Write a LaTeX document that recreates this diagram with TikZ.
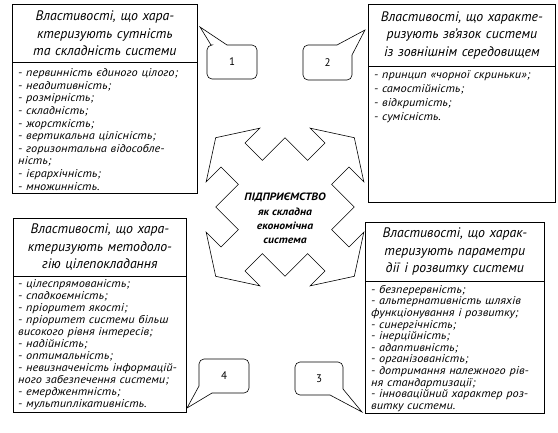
\documentclass[tikz,border=0pt]{standalone}
\usepackage{fontspec}
\setmainfont{PT Sans}
\newfontfamily\wideitem{PT Sans}[FakeStretch=1.1]
\usetikzlibrary{calc}
\tikzset{
  panel/.style={draw=black, line width=0.7pt, inner sep=0pt, anchor=north west},
  titlebox/.style={draw=black, line width=0.7pt, anchor=north west, inner sep=2pt, align=center,
     font=\fontsize{13.8}{17.5}\selectfont\itshape},
  itemlist/.style={anchor=north west, inner sep=0pt, align=left},
  calloutline/.style={draw=black, line width=0.6pt, rounded corners=5pt},
  pointer/.style={draw=black, line width=0.6pt, line join=miter},
  numtext/.style={font=\fontsize{11}{13}\selectfont, inner sep=0pt},
  starline/.style={draw=black, line width=0.6pt, line join=miter},
  centertext/.style={align=center, font=\wideitem\fontsize{10.6}{14.2}\selectfont\bfseries\itshape}
}
\begin{document}
\begin{tikzpicture}[x=1pt,y=-1pt]
\useasboundingbox (0,0) rectangle (558,432);

% ---- box 1 (top left)
\node[panel, minimum width=185pt, minimum height=189pt] (b1) at (12,4) {};
\node[titlebox, minimum width=185pt, minimum height=58pt, text width=180pt] (t1) at (b1.north west)
  {Властивості, що хара-\\ктеризують сутність\\та складність системи};
\node[itemlist, text width=178pt, font=\wideitem\fontsize{11.2}{12.6}\selectfont\itshape] (l1) at (18,68.5)
  {- первинність єдиного цілого;\\
   - неадитивність;\\
   - розмірність;\\
   - складність;\\
   - жорсткість;\\
   - вертикальна цілісність;\\
   - горизонтальна відособле-\\
   ність;\\
   - ієрархічність;\\
   - множинність.};

% ---- box 2 (top right)
\node[panel, minimum width=187pt, minimum height=198pt] (b2) at (368,4) {};
\node[titlebox, minimum width=187pt, minimum height=62pt, text width=182pt] (t2) at (b2.north west)
  {Властивості, що характе-\\ризують зв’язок системи\\із зовнішнім середовищем};
\node[itemlist, text width=180pt, font=\wideitem\fontsize{11.2}{14}\selectfont\itshape] (l2) at (374,70)
  {- принцип «чорної скриньки»;\\
   - самостійність;\\
   - відкритість;\\
   - сумісність.};

% ---- box 4 (bottom left)
\node[panel, minimum width=173pt, minimum height=194pt] (b4) at (13,218) {};
\node[titlebox, minimum width=173pt, minimum height=58pt, text width=168pt] (t4) at (b4.north west)
  {Властивості, що хара-\\ктеризують методоло-\\гію цілепокладання};
\node[itemlist, text width=166pt, font=\wideitem\fontsize{11.2}{12}\selectfont\itshape] (l4) at (18,279)
  {- цілеспрямованість;\\
   - спадкоємність;\\
   - пріоритет якості;\\
   \makebox[164pt][s]{- пріоритет системи більш}\\
   високого рівня інтересів;\\
   - надійність;\\
   - оптимальність;\\
   - невизначеність інформацій-\\
   ного забезпечення системи;\\
   - емерджентність;\\
   - мультиплікативність.};

% ---- box 3 (bottom right)
\node[panel, minimum width=179pt, minimum height=191pt] (b3) at (365,222) {};
\node[titlebox, minimum width=179pt, minimum height=59pt, text width=174pt] (t3) at (b3.north west)
  {Властивості, що харак-\\теризують параметри\\дії і розвитку системи};
\node[itemlist, text width=172pt, font=\wideitem\fontsize{11.2}{11.6}\selectfont\itshape] (l3) at (371,285)
  {- безперервність;\\
   - альтернативність шляхів\\
   функціонування і розвитку;\\
   - синергічність;\\
   - інерційність;\\
   - адаптивність;\\
   - організованість;\\
   - дотримання належного рів-\\
   ня стандартизації;\\
   - інноваційний характер роз-\\
   витку системи.};

% ---- callouts
\node[numtext] (c1) at (232,62) {1};
\coordinate (p1) at (200,27);
\draw[calloutline] (227,45) -- (257,45) -- (257,79) -- (207,79) -- (207,45) -- (211,45);
\draw[pointer] (211,45) -- (p1) -- (227,45);

\node[numtext] (c2) at (327.5,62.5) {2};
\coordinate (p2) at (365,30);
\draw[calloutline] (352,55) -- (352,80) -- (303,80) -- (303,45) -- (337,45);
\draw[pointer] (337,45) -- (p2) -- (352,55);

\node[numtext] (c3) at (319,378.5) {3};
\coordinate (p3) at (362,412);
\draw[calloutline] (343,389) -- (343,362) -- (295,362) -- (295,395) -- (330,395);
\draw[pointer] (330,395) -- (p3) -- (343,389);

\node[numtext] (c4) at (224,376) {4};
\coordinate (p4) at (187,408);
\draw[calloutline] (212,393) -- (249,393) -- (249,359) -- (199,359) -- (199,386);
\draw[pointer] (199,386) -- (p4) -- (212,393);

% ---- central star
\coordinate (C) at (285,207);
\begin{scope}[shift={(C)}, x=1pt, y=1pt, rotate=45]
\draw[starline] (49,-17) -- (73.5,-17) -- (73.5,-38) -- (98,0) -- (73.5,38) -- (73.5,17) -- (49,17)
  -- (49,49) -- (17,49) -- (17,73.5) -- (38,73.5) -- (0,98) -- (-38,73.5) -- (-17,73.5) -- (-17,49)
  -- (-49,49) -- (-49,17) -- (-73.5,17) -- (-73.5,38) -- (-98,0) -- (-73.5,-38) -- (-73.5,-17) -- (-49,-17)
  -- (-49,-49) -- (-17,-49) -- (-17,-73.5) -- (-38,-73.5) -- (0,-98) -- (38,-73.5) -- (17,-73.5) -- (17,-49)
  -- (49,-49) -- cycle;
\end{scope}
\node[centertext] (ent) at (285,218.5) {ПІДПРИЄМСТВО\\як складна\\економічна\\система};
\end{tikzpicture}
\end{document}
